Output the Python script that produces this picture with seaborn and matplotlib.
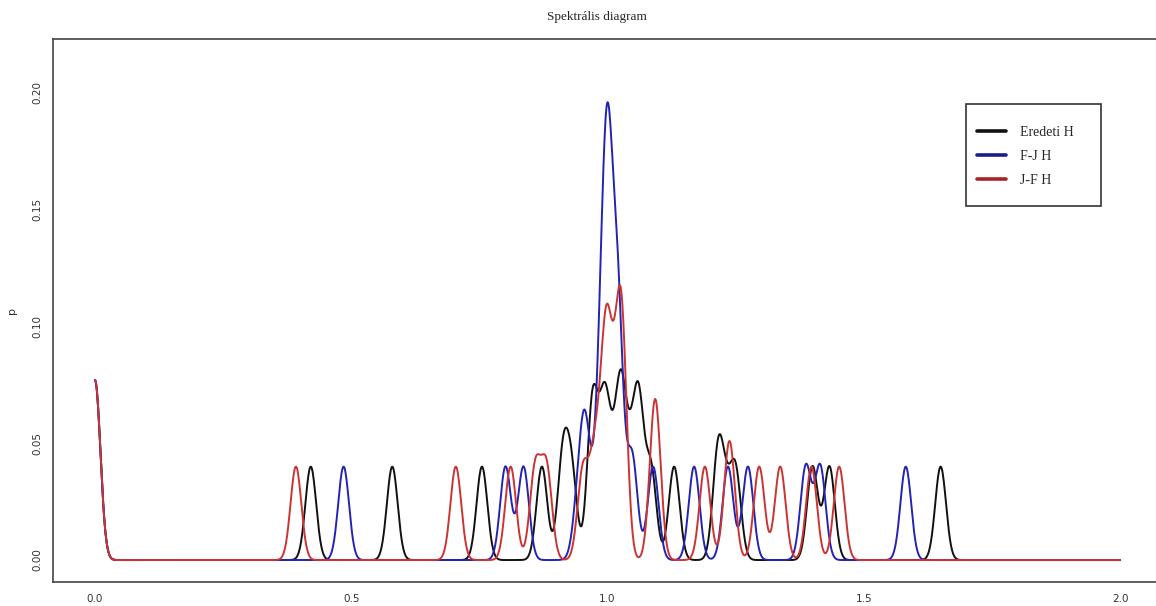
import numpy as np
import pandas as pd
import matplotlib
matplotlib.use("Agg")
import matplotlib.pyplot as plt
from matplotlib.patches import Rectangle
import seaborn as sns

# peak centres and heights (one Gaussian bump per peak)
eredeti_pos = [0.000, 0.421, 0.580, 0.755, 0.872, 0.913, 0.930, 0.971, 0.994, 1.010,
               1.026, 1.044, 1.061, 1.085, 1.130, 1.216, 1.232, 1.250, 1.400, 1.433, 1.650]
eredeti_h = [0.077, 0.040, 0.040, 0.040, 0.040, 0.043, 0.035, 0.068, 0.062, 0.024,
             0.066, 0.032, 0.064, 0.038, 0.040, 0.046, 0.020, 0.037, 0.040, 0.040, 0.040]

fj_pos = [0.000, 0.485, 0.801, 0.836, 0.943, 0.957, 0.985, 1.000, 1.020, 1.048,
          1.089, 1.169, 1.235, 1.274, 1.387, 1.415, 1.582]
fj_h = [0.077, 0.040, 0.040, 0.040, 0.022, 0.053, 0.058, 0.158, 0.105, 0.044,
        0.040, 0.040, 0.040, 0.040, 0.040, 0.040, 0.040]

jf_pos = [0.000, 0.392, 0.704, 0.811, 0.859, 0.881, 0.952, 0.975, 0.996, 1.010,
          1.027, 1.093, 1.190, 1.238, 1.296, 1.337, 1.398, 1.452]
jf_h = [0.077, 0.040, 0.040, 0.040, 0.039, 0.039, 0.038, 0.042, 0.084, 0.040,
        0.103, 0.069, 0.040, 0.051, 0.040, 0.040, 0.040, 0.040]

series_names = ["Eredeti H", "F-J H", "J-F H"]
colors = ["#111111", "#2323b4", "#cc3434"]
legend_colors = ["#111111", "#1c1c8c", "#a82424"]
bw = 0.0105

x = np.linspace(0, 2, 2001)


def density(pos, h):
    pos = np.asarray(pos)[:, None]
    h = np.asarray(h)[:, None]
    return (h * np.exp(-(x - pos) ** 2 / (2 * bw ** 2))).sum(axis=0)


frames = []
for name, pos, h in zip(series_names, [eredeti_pos, fj_pos, jf_pos], [eredeti_h, fj_h, jf_h]):
    frames.append(pd.DataFrame({"x": x, "p": density(pos, h), "series": name}))
df = pd.concat(frames, ignore_index=True)

sns.set_style("white")
fig = plt.figure(figsize=(11.56, 6.06), dpi=100)
ax = fig.add_axes([53 / 1156, 1 - 582 / 606, (1161 - 53) / 1156, (582 - 39) / 606])

sns.lineplot(data=df, x="x", y="p", hue="series", hue_order=series_names,
             palette=colors, linewidth=1.4, ax=ax, legend=False, sort=False)

ax.set_xlim(-0.082, 2.080)
ax.set_ylim(-0.0094, 0.2231)
ax.set_xticks([0.0, 0.5, 1.0, 1.5, 2.0])
ax.set_xticklabels(["0.0", "0.5", "1.0", "1.5", "2.0"])
ax.set_yticks([0.00, 0.05, 0.10, 0.15, 0.20])
ax.set_yticklabels(["0.00", "0.05", "0.10", "0.15", "0.20"], rotation=90, va="center")
ax.tick_params(axis="both", direction="out", length=5, width=1, color="#333333",
               labelsize=7.5, labelcolor="#333333", pad=3)
ax.tick_params(axis="x", pad=4)
for s in ax.spines.values():
    s.set_color("#444444")
    s.set_linewidth(1.2)
ax.set_xlabel("")
ax.set_ylabel("")

fig.text(12 / 1156, 1 - 310 / 606, "p", rotation=90, ha="center", va="center",
         fontsize=8, color="#333333")
fig.text(597 / 1156, 1 - 17 / 606, "Spektrális diagram", ha="center", va="center",
         fontsize=9.5, family="Liberation Serif")

# legend: entries without frame, box drawn separately (R-style padding)
handles = [plt.Line2D([], [], color=c, linewidth=2.6) for c in legend_colors]
leg = ax.legend(handles, series_names, loc="upper left",
                bbox_to_anchor=(970 / 1156, 1 - 119 / 606), bbox_transform=fig.transFigure,
                frameon=False, borderpad=0, handlelength=2.1, handletextpad=1.0,
                labelspacing=0.8, prop={"family": "Liberation Serif", "size": 10})
fig.patches.append(Rectangle((966 / 1156, 1 - 206 / 606), (1101 - 966) / 1156, (206 - 104) / 606,
                             transform=fig.transFigure, fill=False, edgecolor="#333333",
                             linewidth=1.2, zorder=5))

fig.savefig("out.png", dpi=100)
